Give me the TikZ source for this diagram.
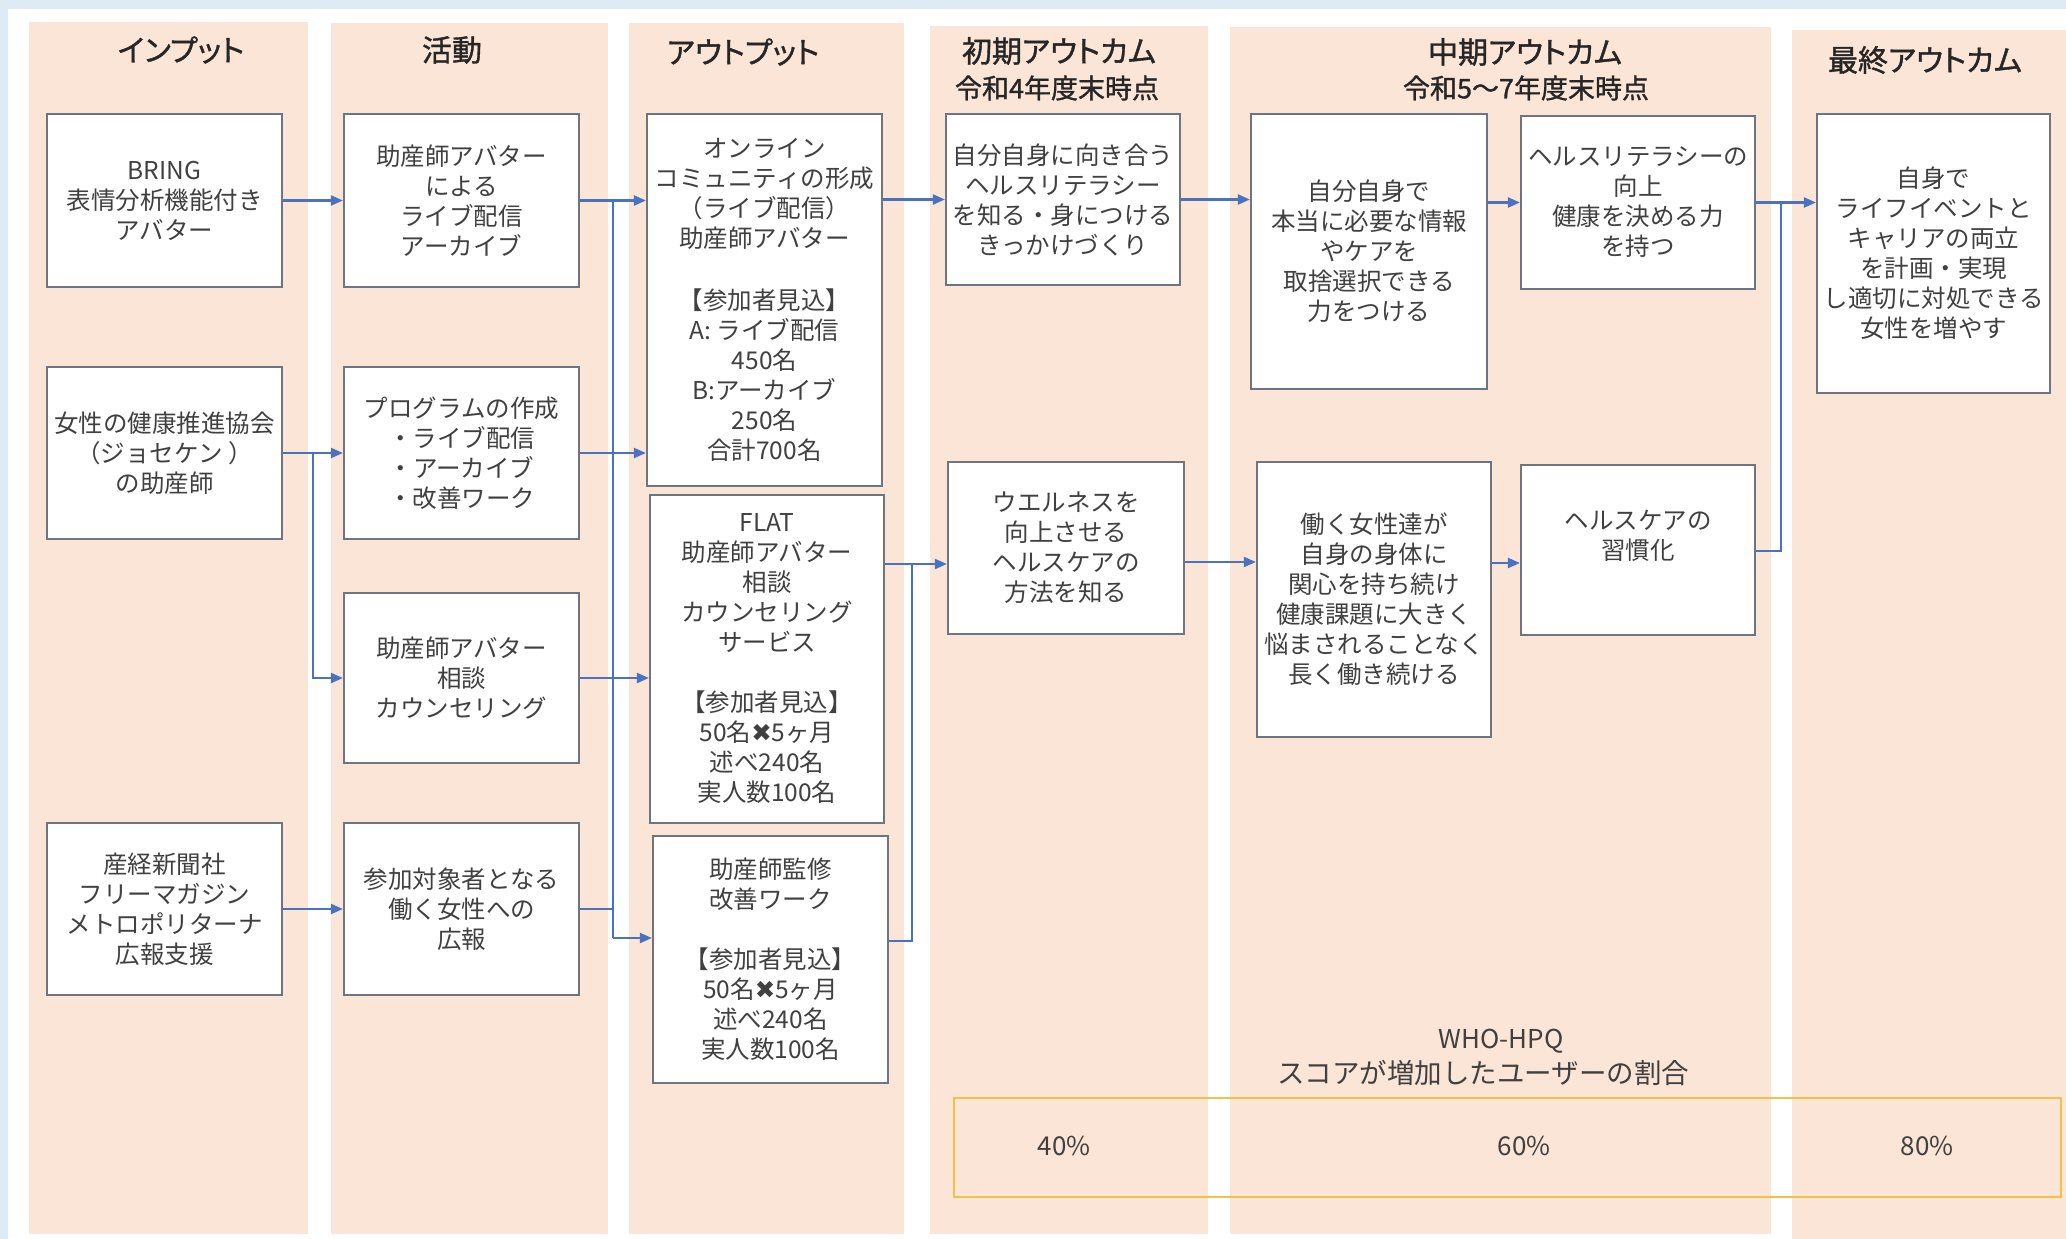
\documentclass[tikz,border=0pt]{standalone}
\usepackage{fontspec}
\setmainfont{Noto Sans CJK JP}
\newfontfamily\headfont[RawFeature=+palt, FakeBold=1.2]{Noto Sans CJK JP}
\newfontfamily\symfont{DejaVu Sans}
\usetikzlibrary{arrows.meta}
\definecolor{bgblue}{HTML}{DEEBF7}
\definecolor{peach}{HTML}{FBE5D6}
\definecolor{boxline}{HTML}{6E7582}
\definecolor{arrowblue}{HTML}{4A72C0}
\definecolor{txt}{HTML}{404040}
\definecolor{headtxt}{HTML}{262626}
\definecolor{gold}{HTML}{F2C14A}
\tikzset{
  bx/.style={draw=boxline, line width=2.2pt, fill=white, inner sep=0pt, align=center, text=txt, font=\fontsize{24.5}{30}\selectfont},
  arr/.style={draw=arrowblue, line width=2.2pt, -{Triangle[length=12pt,width=10pt]}},
  ln/.style={draw=arrowblue, line width=2.2pt},
  head/.style={text=headtxt, font=\headfont\fontsize{30}{36}\selectfont, inner sep=0pt},
  subhead/.style={text=headtxt, font=\headfont\fontsize{27}{32}\selectfont, inner sep=0pt},
  plain/.style={text=txt, font=\fontsize{26}{32}\selectfont, inner sep=0pt, align=center},
  lane/.style={fill=peach}
}
\newcommand{\xx}{{\symfont ✖}}
\begin{document}
\begin{tikzpicture}[x=1pt,y=-1pt]
\useasboundingbox (0,0) rectangle (2066,1239);
\fill[bgblue] (0,0) rectangle (2066,1239);
\fill[white] (8,9) rectangle (2066,1239);
% lanes
\fill[lane] (29,22) rectangle (308,1234);
\fill[lane] (331,23) rectangle (608,1234);
\fill[lane] (629,23) rectangle (904,1234);
\fill[lane] (930,26) rectangle (1208,1234);
\fill[lane] (1230,27) rectangle (1771,1234);
\fill[lane] (1792,30) rectangle (2066,1239);
% headings
\node[head] (h1) at (181,50) {インプット};
\node[head] (h2) at (452,50) {活動};
\node[head] (h3) at (743,52) {アウトプット};
\node[head] (h4) at (1059,51) {初期アウトカム};
\node[subhead] (h4s) at (1057,88) {令和4年度末時点};
\node[head] (h5) at (1525,52) {中期アウトカム};
\node[subhead] (h5s) at (1526,88) {令和5～7年度末時点};
\node[head] (h6) at (1925,60) {最終アウトカム};
% input
\node[bx, minimum width=235pt, minimum height=173pt] (in1) at (164.5,200.5) {BRING\\表情分析機能付き\\アバター};
\node[bx, minimum width=235pt, minimum height=172pt] (in2) at (164.5,453) {女性の健康推進協会\\（ジョセケン ）\\の助産師};
\node[bx, minimum width=235pt, minimum height=172pt] (in3) at (164.5,909) {産経新聞社\\フリーマガジン\\メトロポリターナ\\広報支援};
% activities
\node[bx, minimum width=235pt, minimum height=173pt] (act1) at (461.5,200.5) {助産師アバター\\による\\ライブ配信\\アーカイブ};
\node[bx, minimum width=235pt, minimum height=172pt] (act2) at (461.5,453) {プログラムの作成\\・ライブ配信\\・アーカイブ\\・改善ワーク};
\node[bx, minimum width=235pt, minimum height=170pt] (act3) at (461.5,678) {助産師アバター\\相談\\カウンセリング};
\node[bx, minimum width=235pt, minimum height=172pt] (act4) at (461.5,909) {参加対象者となる\\働く女性への\\広報};
% outputs
\node[bx, minimum width=235pt, minimum height=372pt] (out1) at (764.5,300) {オンライン\\コミュニティの形成\\（ライブ配信）\\助産師アバター\\[32pt]【参加者見込】\\A: ライブ配信\\450名\\B:アーカイブ\\250名\\合計700名};
\node[bx, minimum width=234pt, minimum height=328pt] (out2) at (767,659) {FLAT\\助産師アバター\\相談\\カウンセリング\\サービス\\[30pt]【参加者見込】\\50名\xx5ヶ月\\述べ240名\\実人数100名};
\node[bx, minimum width=235pt, minimum height=247pt] (out3) at (770.5,959.5) {助産師監修\\改善ワーク\\[30pt]【参加者見込】\\50名\xx5ヶ月\\述べ240名\\実人数100名};
% initial outcomes
\node[bx, minimum width=234pt, minimum height=171pt] (ini1) at (1063,199.5) {自分自身に向き合う\\ヘルスリテラシー\\を知る・身につける\\きっかけづくり};
\node[bx, minimum width=236pt, minimum height=172pt] (ini2) at (1066,548) {ウエルネスを\\向上させる\\ヘルスケアの\\方法を知る};
% mid outcomes
\node[bx, minimum width=236pt, minimum height=275pt] (mid1) at (1369,251.5) {自分自身で\\本当に必要な情報\\やケアを\\取捨選択できる\\力をつける};
\node[bx, minimum width=234pt, minimum height=173pt] (mid2) at (1638,202.5) {ヘルスリテラシーの\\向上\\健康を決める力\\を持つ};
\node[bx, minimum width=234pt, minimum height=275pt] (mid3) at (1374,599.5) {働く女性達が\\自身の身体に\\関心を持ち続け\\健康課題に大きく\\悩まされることなく\\長く働き続ける};
\node[bx, minimum width=234pt, minimum height=170pt] (mid4) at (1638,550) {ヘルスケアの\\習慣化\\\mbox{}};
% final
\node[bx, minimum width=233pt, minimum height=279pt] (fin) at (1933.5,253.5) {自身で\\ライフイベントと\\キャリアの両立\\を計画・実現\\し適切に対処できる\\女性を増やす};
% score
\node[plain] (who) at (1501,1041) {WHO-HPQ};
\node[plain, font=\fontsize{27.5}{32}\selectfont] (who2) at (1483,1073) {スコアが増加したユーザーの割合};
\node[draw=gold, line width=2.2pt, minimum width=1107pt, minimum height=99pt, inner sep=0pt] (score) at (1507.5,1147.5) {};
\node[plain] (p40) at (1064,1146) {40\%};
\node[plain] (p60) at (1524,1146) {60\%};
\node[plain] (p80) at (1927,1146) {80\%};
% junction coordinates
\coordinate (j1) at (313,453);
\coordinate (bt) at (613,200.5);
\coordinate (bb) at (613,938);
\coordinate (j2) at (912,564);
\coordinate (j3) at (912,941);
\coordinate (j4) at (1781,202.5);
\coordinate (j5) at (1781,551);
% connectors
\draw[arr] (in1.east) -- (act1.west);
\draw[arr] (in2.east) -- (act2.west);
\draw[arr] (j1) |- (act3.west);
\draw[arr] (in3.east) -- (act4.west);
\draw[arr] (act1.east) -- (out1.west |- act1.east);
\draw[ln] (bt) -- (bb);
\draw[arr] (bb) -- (bb -| out3.west);
\draw[arr] (act2.east) -- (out1.west |- act2.east);
\draw[arr] (act3.east) -- (out2.west |- act3.east);
\draw[ln] (act4.east) -- (act4.east -| bb);
\draw[arr] (out1.east |- ini1.west) -- (ini1.west);
\draw[ln] (out3.east |- j3) -- (j3) -- (j2);
\draw[arr] (out2.east |- j2) -- (ini2.west |- j2);
\draw[arr] (ini1.east) -- (mid1.west |- ini1.east);
\draw[arr] (mid1.east |- mid2.west) -- (mid2.west);
\draw[arr] (mid2.east) -- (fin.west |- mid2.east);
\draw[ln] (mid4.east |- j5) -- (j5) -- (j4);
\draw[arr] (ini2.east |- 0,562) -- (mid3.west |- 0,562);
\draw[arr] (mid3.east |- 0,563) -- (mid4.west |- 0,563);
\end{tikzpicture}
\end{document}
